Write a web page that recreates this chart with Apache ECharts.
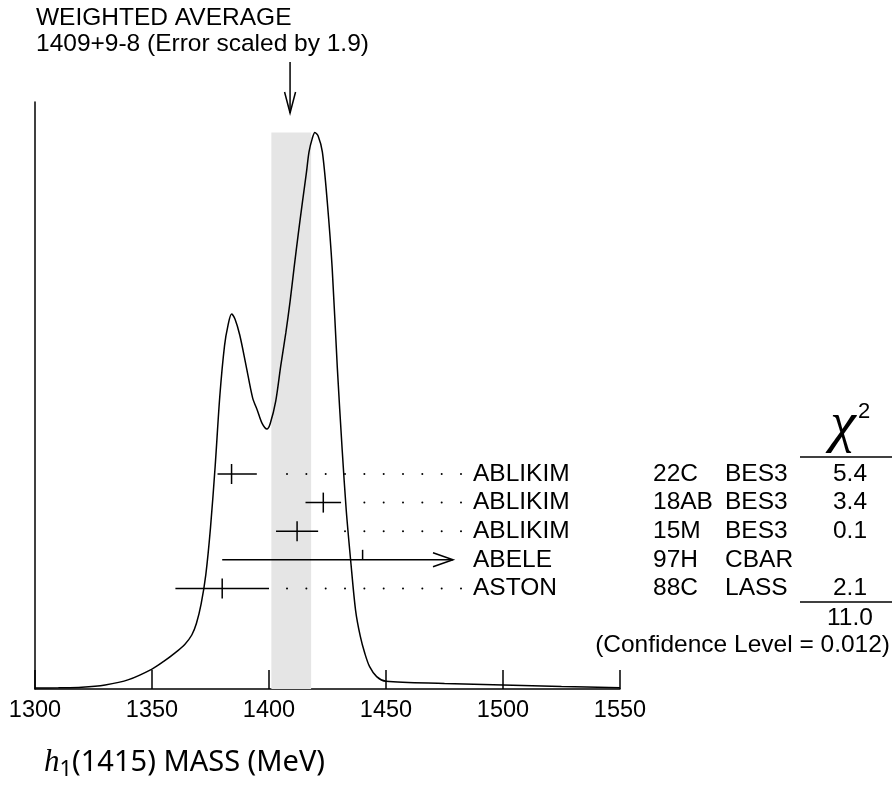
<!DOCTYPE html>
<html><head><meta charset="utf-8">
<script src="https://cdn.jsdelivr.net/npm/echarts@6/dist/echarts.min.js"></script>
<style>html,body{margin:0;padding:0;background:#fff}#c{width:892px;height:789px}</style>
</head><body><div id="c"></div>
<script>
// ---- data ----
const curveMass   = [1300,1310,1320,1330,1340,1350,1355,1360,1364,1367,1369,1371,1373,1375,1377,1379,1381,1382.5,1384,1385.5,1387.5,1390.2,1393,1395,1397,1399.1,1400.5,1402.9,1405,1407.2,1409,1410.7,1412.5,1414.3,1416,1417.1,1418.5,1419.6,1421,1422.8,1424.9,1427,1429.2,1431.3,1433,1434.9,1437,1439,1441,1443,1446,1450,1475,1500,1525,1550];
const curveHeight = [0.15,0.2,0.3,0.7,1.6,3.4,4.7,6.2,7.6,9.2,11.2,14.5,19.5,27.5,38,50,58.5,62,63.9,63,60.3,55.1,49.6,47.5,45.3,44.3,45.2,49.1,55,60.7,66,71.7,77.5,83,88,91.5,93.8,94.8,94.2,91.5,83,71.7,54.7,40.6,30.5,21.9,13.4,9,6,3.8,2.1,1.3,0.95,0.7,0.42,0.2];
const avgValue = 1409, avgErrPlus = 9, avgErrMinus = 8, errScale = 1.9;
const measNames  = ['ABLIKIM','ABLIKIM','ABLIKIM','ABELE','ASTON'];
const measRefs   = ['22C','18AB','15M','97H','88C'];
const measExps   = ['BES3','BES3','BES3','CBAR','LASS'];
const measValues = [1384, 1423.2, 1412, 1440, 1380];
const measErrLo  = [6, 7.6, 9, 60, 20];
const measErrHi  = [10.8, 7.6, 9, 60, 20];
const measChi2   = ['5.4','3.4','0.1','','2.1'];
const measUsed   = [true, true, true, false, true];
const chi2Total  = '11.0';
const confLevel  = '0.012';
const xTicks     = [1300,1350,1400,1450,1500,1550];

// ---- layout ----
const FONT = '"Liberation Sans", Arial, sans-serif';
const FS = 24.5;
const ROW_Y0 = 474, ROW_STEP = 28.6;
const DOT_END = 461, DOT_STEP = 19.33, ARROW_END = 453;
const COL_NAME = 473, COL_REF = 653, COL_EXP = 725, COL_CHI = 850;
const GRID_TOP = 102, GRID_BOTTOM = 689;

const chart = echarts.init(document.getElementById('c'), null, {renderer:'canvas'});
const ls = {stroke:'#000', lineWidth:1.5};
const txt = (text, x, y, align) => ({type:'text', style:{text, x, y, font: FS+'px '+FONT, fill:'#000', align: align||'left', verticalAlign:'middle'}});

const option = {
  animation:false,
  backgroundColor:'#fff',
  grid:{left:35, top:GRID_TOP, width:585, height:GRID_BOTTOM-GRID_TOP},
  xAxis:{type:'value', min:xTicks[0], max:xTicks[xTicks.length-1], interval:50,
    axisLine:{lineStyle:{color:'#000', width:1.5}},
    axisTick:{inside:true, length:19, lineStyle:{color:'#000', width:1.5}},
    axisLabel:{color:'#000', fontSize:23.5, fontFamily:FONT, margin:10, formatter:(v)=>String(v)},
    splitLine:{show:false}},
  yAxis:{type:'value', min:0, max:100, axisLine:{show:true, lineStyle:{color:'#000', width:1.5}},
    axisTick:{show:false}, axisLabel:{show:false}, splitLine:{show:false}},
  graphic:{elements:[
    {type:'text', x:36, y:18, style:{text:'WEIGHTED AVERAGE', font:FS+'px '+FONT, fill:'#000', verticalAlign:'middle'}},
    {type:'text', x:36, y:44, style:{text: avgValue+'+'+avgErrPlus+'-'+avgErrMinus+' (Error scaled by '+errScale+')', font:FS+'px '+FONT, fill:'#000', verticalAlign:'middle'}},
    {type:'text', x:843, y:426, style:{text:'\u03C7', font:'italic 58px "Liberation Serif", serif', fill:'#000', align:'center', verticalAlign:'middle'}},
    {type:'text', x:864, y:412, style:{text:'2', font:'22px '+FONT, fill:'#000', align:'center', verticalAlign:'middle'}},
    {type:'line', shape:{x1:800, y1:457, x2:892, y2:457}, style:ls},
    {type:'line', shape:{x1:800, y1:602, x2:892, y2:602}, style:ls},
    {type:'text', x:COL_CHI, y:618, style:{text:chi2Total, font:FS+'px '+FONT, fill:'#000', align:'center', verticalAlign:'middle'}},
    {type:'text', x:890, y:645, style:{text:'(Confidence Level = '+confLevel+')', font:FS+'px '+FONT, fill:'#000', align:'right', verticalAlign:'middle'}},
    {type:'text', x:44, y:763, style:{
      text:'{h|h}{s|1}{n|(1415) MASS (MeV)}',
      rich:{
        h:{font:'italic 31px "Liberation Serif", serif', fill:'#000', verticalAlign:'middle'},
        s:{font:'22px "Noto Sans", sans-serif', fill:'#000', padding:[13,0,0,0], verticalAlign:'middle'},
        n:{font:'29px "Noto Sans", sans-serif', fill:'#000', verticalAlign:'middle'}
      }, verticalAlign:'middle'}}
  ]},
  series:[
    {type:'line', data: curveMass.map((m,i)=>[m, curveHeight[i]]), smooth:0.3, symbol:'none',
     lineStyle:{color:'#000', width:1.5}, z:3,
     markArea:{silent:true, itemStyle:{color:'#e5e5e5'},
       data:[[{xAxis:avgValue-avgErrMinus, yAxis:0},{xAxis:avgValue+avgErrPlus, yAxis:Math.max(...curveHeight)}]]}},
    {type:'custom', clip:false, z:4, data:[[avgValue,0]],
     renderItem:function(params, api){
       const x = api.coord([api.value(0),0])[0];
       return {type:'group', children:[
         {type:'line', shape:{x1:x, y1:62, x2:x, y2:113}, style:ls},
         {type:'polyline', shape:{points:[[x-5.5,92],[x,113],[x+5.5,92]]}, style:{stroke:'#000', lineWidth:1.5, fill:null}}
       ]};
     }},
    {type:'custom', clip:false, z:5, data: measValues.map((v,i)=>[v,i]),
     renderItem:function(params, api){
       const i = params.dataIndex;
       const v = measValues[i];
       const y = ROW_Y0 + i*ROW_STEP;
       const xc = api.coord([v,0])[0];
       const xl = api.coord([v-measErrLo[i],0])[0];
       const xr = api.coord([v+measErrHi[i],0])[0];
       const ch = [];
       if (measUsed[i]) {
         ch.push({type:'line', shape:{x1:xl,y1:y,x2:xr,y2:y}, style:ls});
         ch.push({type:'line', shape:{x1:xc,y1:y-10,x2:xc,y2:y+10}, style:ls});
         for (let k=0;k<40;k++){ const dx = DOT_END - k*DOT_STEP; if (dx < xr+14) break;
           ch.push({type:'circle', shape:{cx:dx, cy:y, r:1}, style:{fill:'#000'}}); }
       } else {
         ch.push({type:'line', shape:{x1:xl,y1:y,x2:ARROW_END,y2:y}, style:ls});
         ch.push({type:'polyline', shape:{points:[[ARROW_END-20,y-7],[ARROW_END,y],[ARROW_END-20,y+7]]}, style:{stroke:'#000', lineWidth:1.5, fill:null}});
         ch.push({type:'line', shape:{x1:xc,y1:y-10,x2:xc,y2:y}, style:ls});
       }
       ch.push(txt(measNames[i], COL_NAME, y));
       ch.push(txt(measRefs[i], COL_REF, y));
       ch.push(txt(measExps[i], COL_EXP, y));
       if (measChi2[i]) ch.push(txt(measChi2[i], COL_CHI, y, 'center'));
       return {type:'group', children:ch};
     }}
  ]
};
chart.setOption(option);
</script>
</body></html>
